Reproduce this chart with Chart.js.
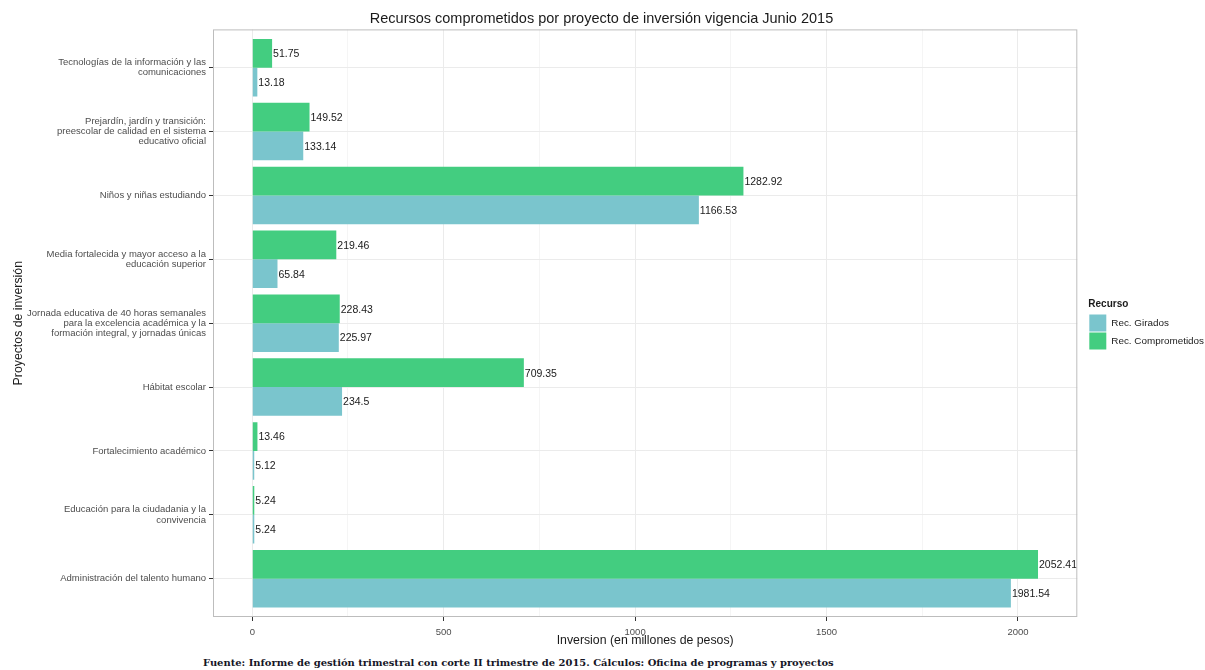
<!DOCTYPE html>
<html>
<head>
<meta charset="utf-8">
<script src="https://cdn.jsdelivr.net/npm/chart.js@4.4.1/dist/chart.umd.min.js"></script>
<style>
  body { margin: 0; background: #fff; }
  #wrap { position: relative; width: 1205px; height: 650px; }
  #fuente {
    position: absolute; left: 203px; top: 657px;
    font: bold 9.95px 'DejaVu Serif', 'Liberation Serif', serif;
    color: #151525; white-space: nowrap;
  }
</style>
</head>
<body>
<div id="wrap"><canvas id="grafico"></canvas></div>
<div id="fuente">Fuente: Informe de gestión trimestral con corte II trimestre de 2015. Cálculos: Oficina de programas y proyectos</div>
<script>
// Proyectos, de arriba hacia abajo (cada uno partido en líneas)
const proyectos = [
  ['Tecnologías de la información y las', 'comunicaciones'],
  ['Prejardín, jardín y transición:', 'preescolar de calidad en el sistema', 'educativo oficial'],
  ['Niños y niñas estudiando'],
  ['Media fortalecida y mayor acceso a la', 'educación superior'],
  ['Jornada educativa de 40 horas semanales', 'para la excelencia académica y la', 'formación integral, y jornadas únicas'],
  ['Hábitat escolar'],
  ['Fortalecimiento académico'],
  ['Educación para la ciudadania y la', 'convivencia'],
  ['Administración del talento humano']
];

// Millones de pesos
const comprometidos = [51.75, 149.52, 1282.92, 219.46, 228.43, 709.35, 13.46, 5.24, 2052.41];
const girados = [13.18, 133.14, 1166.53, 65.84, 225.97, 234.5, 5.12, 5.24, 1981.54];

const ticksX = [0, 250, 500, 750, 1000, 1250, 1500, 1750, 2000];

const colorGirados = '#7AC5CD';
const colorComprometidos = '#43CD80';

Chart.defaults.font.family = "'Liberation Sans', Arial, sans-serif";
Chart.defaults.color = '#4d4d4d';

// puntos {x: valor, y: posición del proyecto}
function puntos(valores) {
  return valores.map((v, i) => ({ x: v, y: i }));
}

// Etiquetas con el valor al final de cada barra
const etiquetasBarras = {
  id: 'etiquetasBarras',
  afterDatasetsDraw(chart) {
    const ctx = chart.ctx;
    ctx.save();
    ctx.font = "10.5px 'Liberation Sans', Arial, sans-serif";
    ctx.fillStyle = '#1a1a1a';
    ctx.textAlign = 'left';
    ctx.textBaseline = 'middle';
    chart.data.datasets.forEach((ds, i) => {
      const meta = chart.getDatasetMeta(i);
      meta.data.forEach((barra, j) => {
        ctx.fillText(String(ds.data[j].x), barra.x + 1, barra.y + 1);
      });
    });
    ctx.restore();
  }
};

// Marco del panel
const marco = {
  id: 'marco',
  afterDraw(chart) {
    const a = chart.chartArea;
    const ctx = chart.ctx;
    ctx.save();
    ctx.strokeStyle = '#bdbdbd';
    ctx.lineWidth = 1;
    ctx.strokeRect(a.left + 0.5, a.top + 0.5, a.right - a.left - 1, a.bottom - a.top - 1);
    ctx.restore();
  }
};

// Pone la leyenda un poco separada del panel
const moverLeyenda = {
  id: 'moverLeyenda',
  afterLayout(chart) {
    chart.legend.left += 11;
    chart.legend.right += 11;
  }
};

new Chart(document.getElementById('grafico'), {
  type: 'bar',
  data: {
    datasets: [
      {
        label: 'Rec. Comprometidos',
        data: puntos(comprometidos),
        backgroundColor: colorComprometidos,
        borderWidth: 0
      },
      {
        label: 'Rec. Girados',
        data: puntos(girados),
        backgroundColor: colorGirados,
        borderWidth: 0
      }
    ]
  },
  options: {
    indexAxis: 'y',
    responsive: true,
    maintainAspectRatio: false,
    animation: false,
    devicePixelRatio: 1,
    categoryPercentage: 0.9,
    barPercentage: 1.0,
    layout: { padding: { left: 0, right: 2, top: 0, bottom: 0 } },
    scales: {
      x: {
        type: 'linear',
        min: -102.62,
        max: 2155.03,
        afterBuildTicks: (eje) => { eje.ticks = ticksX.map(v => ({ value: v })); },
        afterFit: (eje) => { eje.height = 33; },
        ticks: {
          callback: (v) => (v % 500 === 0 ? v : ''),
          font: { size: 9.5 },
          color: '#4d4d4d',
          padding: 6,
          maxRotation: 0,
          autoSkip: false
        },
        grid: {
          color: (c) => (c.tick && c.tick.value % 500 === 0 ? '#ebebeb' : '#f5f5f5'),
          tickColor: (c) => (c.tick && c.tick.value % 500 === 0 ? '#333333' : 'rgba(0,0,0,0)'),
          tickLength: 4
        },
        border: { display: false },
        title: {
          display: true,
          text: 'Inversion (en millones de pesos)',
          font: { size: 12.3 },
          color: '#1a1a1a',
          padding: { top: 0, bottom: 2 }
        }
      },
      y: {
        type: 'linear',
        reverse: true,
        offset: false,
        min: -0.6,
        max: 8.6,
        afterBuildTicks: (eje) => { eje.ticks = proyectos.map((p, i) => ({ value: i })); },
        afterFit: (eje) => { eje.width = 213; },
        ticks: {
          callback: (v) => proyectos[v],
          font: { size: 9.5, lineHeight: 1.08 },
          color: '#4d4d4d',
          padding: 3,
          autoSkip: false
        },
        grid: {
          offset: false,
          color: '#ebebeb',
          tickColor: '#333333',
          tickLength: 4
        },
        border: { display: false },
        title: {
          display: true,
          text: 'Proyectos de inversión',
          font: { size: 12.3 },
          color: '#1a1a1a',
          padding: { top: 11, bottom: 0 }
        }
      }
    },
    plugins: {
      title: {
        display: true,
        text: 'Recursos comprometidos por proyecto de inversión vigencia Junio 2015',
        font: { size: 14.5, weight: 'normal' },
        color: '#1a1a1a',
        padding: { top: 10, bottom: 2 }
      },
      legend: {
        position: 'right',
        reverse: true,
        title: {
          display: true,
          position: 'start',
          text: 'Recurso',
          font: { size: 10, weight: 'bold' },
          color: '#1a1a1a',
          padding: { top: 0, bottom: 2 }
        },
        labels: {
          boxWidth: 17,
          boxHeight: 17,
          padding: 1,
          font: { size: 9.9 },
          color: '#1a1a1a'
        }
      },
      tooltip: { enabled: false }
    }
  },
  plugins: [etiquetasBarras, marco, moverLeyenda]
});
</script>
</body>
</html>
